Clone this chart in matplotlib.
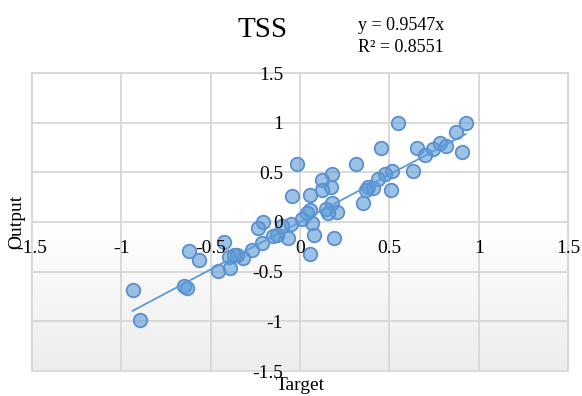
import numpy as np
import matplotlib.pyplot as plt
from matplotlib.colors import LinearSegmentedColormap

# values
target = [0.546, 0.927, 0.875, 0.456, 0.656, 0.745, 0.782, 0.816, 0.698, 0.909,
          0.633, 0.516, 0.475, 0.437, 0.382, 0.410, 0.369, 0.512, 0.354, 0.313,
          -0.015, 0.177, 0.121, 0.171, 0.121, -0.043, 0.056, 0.177, 0.145, 0.205,
          0.158, 0.056, 0.037, 0.009, 0.065, -0.050, 0.080, 0.190, 0.054, -0.065,
          -0.127, -0.153, -0.205, -0.233, -0.214, -0.270, -0.317, -0.354, -0.400, -0.391,
          -0.461, -0.428, -0.624, -0.568, -0.937, -0.894, -0.652, -0.633, -0.370, -0.102]
output = [1.000, 1.000, 0.905, 0.747, 0.744, 0.737, 0.795, 0.765, 0.675, 0.700,
          0.515, 0.512, 0.482, 0.431, 0.350, 0.340, 0.325, 0.320, 0.190, 0.583,
          0.583, 0.482, 0.424, 0.350, 0.323, 0.258, 0.273, 0.195, 0.135, 0.104,
          0.094, 0.121, 0.095, 0.027, -0.013, -0.025, -0.128, -0.162, -0.322, -0.165,
          -0.131, -0.141, 0.003, -0.064, -0.215, -0.283, -0.367, -0.333, -0.350, -0.468,
          -0.490, -0.199, -0.290, -0.384, -0.687, -0.990, -0.646, -0.660, -0.330, -0.040]
slope = 0.9547
r2 = 0.8551
ticks = [-1.5, -1, -0.5, 0, 0.5, 1, 1.5]
tickLabels = ["-1.5", "-1", "-0.5", "0", "0.5", "1", "1.5"]

plt.rcParams['font.family'] = ['Liberation Serif', 'DejaVu Serif']

fig = plt.figure(figsize=(5.82, 3.96), dpi=100)
ax = fig.add_axes([32/582, 1-371/396, 536/582, 298/396])

# soft grey gradient of the plot area, white on top, grey at the bottom
grad = np.linspace(1, 0, 256).reshape(-1, 1)
cmap = LinearSegmentedColormap.from_list('bg', ['#ffffff', '#ffffff', '#ededed'])
ax.imshow(grad, extent=[-1.5, 1.5, -1.5, 1.5], origin='lower', aspect='auto',
          cmap=cmap, vmin=0, vmax=1, zorder=0)
ax.set_xlim(-1.5, 1.5)
ax.set_ylim(-1.5, 1.5)

ax.set_xticks(ticks)
ax.set_yticks(ticks)
ax.grid(True, color='#d9d9d9', linewidth=1.4, zorder=1)
ax.tick_params(length=0, labelbottom=False, labelleft=False)
for s in ax.spines.values():
    s.set_color('#d9d9d9')
    s.set_linewidth(1.4)

ax.scatter(target, output, s=95, facecolor=(0.357, 0.608, 0.835, 0.6),
           edgecolor='#5b8fd0', linewidth=1.3, zorder=3)
xs = np.array([min(target), max(target)])
ax.plot(xs, slope*xs, color='#5b9bd5', linewidth=1.3, zorder=4)

# tick labels sit along the zero lines
for t, lbl in zip(ticks, tickLabels):
    ax.annotate(lbl, (t, 0), xytext=(0, -31), textcoords='offset pixels',
                ha='center', va='baseline', fontsize=14, zorder=5, annotation_clip=False)
    ax.annotate(lbl, (0, t), xytext=(-17, -6.5), textcoords='offset pixels',
                ha='right', va='baseline', fontsize=14, zorder=5, annotation_clip=False)

fig.text(262/582, 1-37/396, "TSS", ha='center', va='baseline', fontsize=21)
fig.text(358/582, 1-30/396, f"y = {slope}x", ha='left', va='baseline', fontsize=13)
fig.text(358/582, 1-52/396, f"R² = {r2}", ha='left', va='baseline', fontsize=13)
fig.text(300/582, 1-390/396, "Target", ha='center', va='baseline', fontsize=14)
fig.text(17/582, 1-222/396, "Output", ha='center', va='center', rotation=90, fontsize=14)

fig.savefig("out.png", dpi=100)
